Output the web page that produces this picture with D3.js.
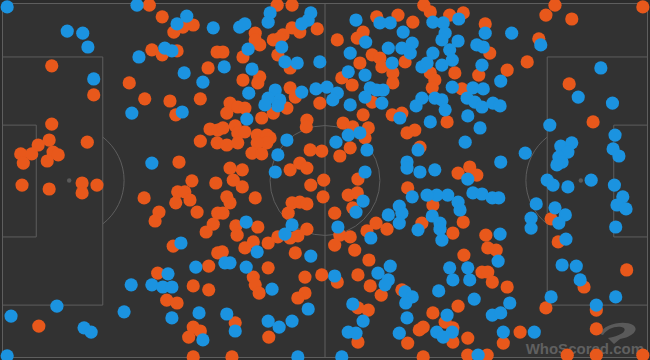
<!DOCTYPE html>
<html>
<head>
<meta charset="utf-8">
<script src="https://cdn.jsdelivr.net/npm/d3@7"></script>
<style>
html,body{margin:0;padding:0;background:#2c2c2c;}
svg{display:block;}
</style>
</head>
<body>
<svg id="chart" width="650" height="360"></svg>
<script>
// Pitch coordinates 0-100 (x: own goal -> opponent goal, y: top -> bottom)
const orangeTouches = [
[22.8,0.6],[24.8,3.9],[29.6,6.2],[26.6,8.2],[28.0,6.8],[7.7,17.7],[23.2,13.2],[24.8,14.6],[27.1,13.5],[33.3,13.8],
[31.9,18.3],[14.2,25.9],[19.7,22.5],[22.1,27.0],[26.0,27.6],[30.7,27.0],[26.9,31.5],[7.7,34.1],[32.2,35.5],[33.4,35.8],
[30.7,38.9],[33.3,39.4],[7.3,38.6],[5.6,40.0],[13.2,39.2],[2.9,42.5],[4.6,42.5],[7.9,42.0],[8.7,42.8],[3.3,45.1],
[7.0,44.5],[27.4,44.8],
[3.1,51.3],[7.3,52.4],[12.4,50.7],[12.4,53.5],[14.7,51.3],[22.0,54.9],[27.2,53.2],[28.3,53.2],[29.4,50.1],[29.1,55.5],
[26.9,56.3],[33.1,50.7],[24.3,58.9],[23.7,61.4],[30.2,58.9],[32.7,62.3],[31.6,64.5],[33.4,59.2],[26.5,68.5],[33.4,70.4],
[32.0,74.1],[24.1,76.1],[29.6,79.7],[32.0,80.8],[25.5,83.7],[27.1,84.5],[5.7,91.0],[29.6,91.3],[30.7,92.4],[28.9,94.1],
[29.6,99.7],
[42.6,0.6],[44.9,0.6],[39.2,8.5],[39.9,11.8],[39.2,10.4],[44.9,7.0],[46.1,8.2],[48.8,7.3],[43.5,9.0],[42.0,10.4],
[43.0,9.9],[37.3,15.2],[34.2,13.8],[44.6,18.3],[42.7,14.6],[37.3,21.7],[39.9,20.8],[39.6,22.5],[44.6,23.9],[44.1,29.6],
[45.4,26.5],[49.2,28.2],[35.3,28.2],[36.5,29.3],[37.6,29.6],[34.8,31.0],[40.2,32.4],[42.0,31.0],[47.2,33.0],[47.1,34.9],
[36.1,34.6],[34.2,35.2],[36.5,36.6],[37.6,36.3],[39.5,37.2],[41.0,37.2],[41.5,38.0],[41.0,39.4],[39.5,39.4],[34.8,40.0],
[36.5,39.4],[38.7,42.3],[40.2,42.5],[47.7,41.4],[49.5,41.7],[35.3,46.5],[37.2,47.0],[35.8,49.9],[44.6,47.0],[46.1,45.1],
[47.2,46.5],[49.8,49.9],
[58.0,3.9],[61.3,3.4],[63.6,5.4],[65.3,0.6],[66.3,2.5],[51.9,10.4],[55.0,9.9],[55.9,8.2],[57.3,14.6],[58.5,15.5],
[55.4,16.9],[58.8,18.0],[62.4,16.6],[52.6,21.1],[60.5,19.7],[60.5,22.5],[66.3,19.7],[67.0,21.7],[66.6,23.9],[54.2,23.1],
[57.3,27.9],[60.4,31.5],[61.9,31.0],[55.9,31.5],[52.8,33.8],[54.3,34.9],[56.7,35.2],[56.2,38.0],[62.7,36.6],[63.9,35.8],
[53.9,40.8],[64.7,40.6],[52.3,43.1],[55.1,49.6],
[69.3,3.4],[71.4,2.8],[74.8,5.9],[84.2,3.4],[85.6,0.6],[88.2,4.5],[99.2,1.1],[83.1,10.1],[75.5,14.1],[81.3,16.6],
[78.2,18.9],[70.1,19.7],[73.8,20.3],[71.2,24.2],[68.9,33.5],[72.4,46.2],[70.6,47.9],[73.5,48.5],[87.8,22.8],[91.5,33.5],
[66.7,56.9],[71.4,61.7],[69.8,64.8],[74.9,65.4],[75.2,69.0],[76.5,69.6],[71.5,71.0],[74.3,75.8],[75.2,75.8],[75.9,78.6],
[78.2,80.0],[70.6,85.4],[66.7,87.3],[68.6,89.9],[69.8,91.5],[69.8,95.5],[72.1,94.4],[77.6,95.8],[80.2,92.7],[72.1,99.2],
[75.1,99.2],[85.0,60.8],[86.1,67.3],[96.7,75.2],[90.1,80.0],[92.0,86.5],[84.2,85.9],[92.0,91.8],[87.5,99.2],[92.0,99.2],
[99.2,99.2],
[37.2,51.8],[34.8,54.6],[35.3,56.3],[39.2,54.9],[34.2,59.2],[47.8,51.3],[44.9,56.3],[46.1,56.1],[47.2,56.6],[44.3,59.2],
[49.7,54.6],[53.6,54.1],[55.0,53.5],[51.5,59.2],[54.3,57.7],[62.8,52.1],[57.9,62.0],[59.6,63.7],[56.5,64.2],[65.0,62.0],
[52.3,65.4],[53.9,65.9],[51.5,68.2],[54.6,69.6],[36.2,62.8],[36.4,65.4],[39.6,63.1],[38.9,67.3],[37.6,69.0],[41.2,67.6],
[42.7,65.9],[44.6,66.2],[45.8,65.6],[47.2,63.7],[45.4,70.4],[34.1,70.1],[41.2,74.6],[38.9,77.2],[39.2,79.4],[39.8,81.7],
[46.9,77.2],[49.5,76.6],[51.9,78.6],[55.1,76.6],[56.8,72.4],[57.0,79.7],[58.7,82.3],[46.9,81.7],[45.8,83.1],[61.9,80.8],
[55.1,85.9],[56.7,86.5],[36.1,90.1],[41.3,94.1],[55.1,95.5],[62.8,95.8],[64.6,92.1],[65.2,91.3],[35.6,99.7],[65.2,99.7]
];

const blueTouches = [
[0.8,1.1],[20.9,0.6],[27.1,5.9],[28.6,3.7],[32.7,7.0],[10.1,7.9],[12.5,8.5],[13.3,12.4],[25.2,12.7],[26.3,13.5],
[21.2,15.2],[28.2,19.7],[14.2,21.4],[31.1,22.3],[20.1,31.0],[27.9,30.7],[23.2,45.1],
[27.7,67.6],[30.0,74.4],[25.7,76.3],[20.0,79.4],[23.2,79.4],[24.9,80.0],[26.3,80.0],[8.5,85.4],[18.9,87.0],[30.5,87.3],
[1.4,88.2],[26.3,88.7],[12.7,91.5],[13.8,92.7],[31.1,94.9],[0.8,99.4],
[41.5,2.8],[41.2,5.4],[47.8,2.8],[47.4,4.8],[46.4,5.9],[36.8,6.8],[37.6,5.9],[38.1,13.0],[43.3,12.4],[34.4,18.0],
[43.8,16.6],[45.7,16.9],[49.2,16.6],[38.7,18.6],[38.2,25.4],[42.3,24.5],[41.2,26.8],[40.7,28.7],[43.0,27.3],[42.7,29.0],
[46.4,25.1],[48.6,24.2],[50.3,23.7],[51.9,25.4],[51.2,27.3],[37.9,32.7],[44.1,38.6],[42.7,42.8],[42.3,47.6],
[54.8,4.8],[58.5,5.6],[60.1,5.6],[66.7,5.4],[56.3,11.0],[62.1,8.2],[53.9,14.1],[59.8,12.7],[61.9,12.7],[63.5,11.3],
[63.2,14.1],[60.4,16.9],[53.6,19.4],[56.2,20.3],[65.0,18.0],[65.8,16.9],[66.7,14.1],[57.0,23.9],[59.0,24.5],[58.0,24.5],
[56.2,26.5],[58.8,28.2],[53.9,28.7],[65.0,26.8],[64.1,29.0],[67.0,26.8],[61.6,32.4],[66.3,33.5],[53.6,37.2],[55.4,36.6],
[51.7,39.2],[56.5,41.4],[64.4,41.4],[62.7,44.8],[62.7,46.5],[64.7,47.6],[56.2,47.6],[67.0,47.0],
[68.3,5.6],[70.7,4.5],[78.9,8.5],[74.8,8.5],[68.6,8.5],[68.1,10.4],[70.6,10.7],[83.4,11.8],[73.5,11.8],[74.5,12.4],
[69.3,13.2],[69.7,16.1],[68.1,17.5],[74.3,17.5],[77.2,22.0],[69.7,23.7],[72.9,23.9],[74.5,24.2],[68.1,27.3],[68.6,30.1],
[72.0,26.8],[73.2,27.9],[74.3,29.3],[76.0,28.2],[77.1,29.0],[72.1,31.8],[74.0,35.2],[71.7,39.2],[77.2,44.8],[81.0,42.3],
[72.1,49.6],[92.7,18.3],[89.2,26.5],[94.5,28.2],[84.8,34.4],[94.9,37.2],[86.5,40.3],[88.2,39.4],[87.6,42.0],[86.2,43.4],
[86.7,44.8],[85.9,45.6],[94.6,41.1],[95.5,43.1],[84.4,49.9],[91.2,49.9],
[85.3,51.3],[87.6,51.8],[94.8,51.3],[96.1,54.6],[95.2,56.9],[96.6,58.0],[95.0,63.1],[67.3,54.1],[69.0,54.1],[70.6,56.1],
[70.9,58.3],[72.9,53.5],[74.3,53.8],[75.9,54.9],[76.9,54.9],[66.6,60.0],[67.8,62.0],[67.8,63.7],[68.1,66.8],[77.1,65.1],
[76.8,72.7],[69.3,74.6],[69.8,78.0],[72.1,74.6],[72.4,78.0],[67.6,81.1],[73.1,83.4],[78.6,84.5],[68.9,87.9],[75.9,87.9],
[77.2,87.3],[69.7,92.7],[67.3,92.7],[68.3,94.1],[77.6,92.7],[82.4,92.7],[73.7,99.2],[82.7,56.6],[85.6,57.7],[87.2,59.7],
[86.2,62.0],[81.9,60.6],[81.9,63.4],[87.3,66.5],[86.7,73.8],[88.9,74.1],[89.5,78.0],[85.0,82.8],[95.0,82.8],[92.0,85.1],
[55.9,55.8],[54.8,58.9],[63.5,54.6],[65.8,54.1],[61.5,57.2],[61.9,59.2],[59.8,59.7],[61.5,62.0],[64.4,63.9],[57.1,66.2],
[52.0,63.1],[37.8,61.7],[39.5,70.1],[44.9,62.5],[43.8,65.1],[47.8,71.3],[34.5,73.2],[35.3,73.2],[37.8,74.4],[51.5,76.9],
[60.1,74.1],[58.2,76.1],[59.8,78.0],[59.3,79.4],[41.8,80.6],[47.4,86.2],[62.4,81.4],[63.5,82.8],[62.5,84.5],[54.3,84.8],
[55.9,89.6],[62.7,88.7],[34.8,87.6],[36.1,92.4],[41.2,89.6],[42.9,91.3],[44.9,89.6],[53.6,92.7],[54.8,93.0],[61.5,93.0],
[45.8,99.7],[52.6,99.7]
];

// Pitch markings in the same 0-100 units
const penaltyBox = {depth: 15.6, top: 15.2, bottom: 85.1};
const sixYardBox = {depth: 5.3, top: 34.4, bottom: 65.9};
const penaltySpotX = 10.4;
const circleRadius = 8.5; // in x units

const colors = {orange: "#e8581b", blue: "#1b93e0", pitch: "#323232", line: "#5e5e5e"};

const W = 650, H = 360;
const svg = d3.select("#chart");
const x = d3.scaleLinear().domain([0, 100]).range([2, 648]);
const y = d3.scaleLinear().domain([0, 100]).range([3, 358]);
const rPx = x(circleRadius) - x(0);

svg.append("rect").attr("width", W).attr("height", H).attr("fill", "#2c2c2c");
svg.append("rect").attr("x", x(0)).attr("y", y(0)).attr("width", x(100) - x(0)).attr("height", y(100) - y(0))
  .attr("fill", colors.pitch);

const lines = svg.append("g").attr("fill", "none").attr("stroke", colors.line).attr("stroke-width", 1);
lines.append("rect").attr("x", x(0) + 0.5).attr("y", y(0) + 0.5).attr("width", x(100) - x(0) - 1).attr("height", y(100) - y(0) - 1);
lines.append("line").attr("x1", x(50)).attr("x2", x(50)).attr("y1", y(0)).attr("y2", y(100));
lines.append("circle").attr("cx", x(50)).attr("cy", y(50)).attr("r", rPx);

[0, 100].forEach(side => {
  const dir = side === 0 ? 1 : -1;
  const xb = x(side + dir * penaltyBox.depth);
  lines.append("path").attr("d", `M${x(side)},${y(penaltyBox.top)}H${xb}V${y(penaltyBox.bottom)}H${x(side)}`);
  const xs = x(side + dir * sixYardBox.depth);
  lines.append("path").attr("d", `M${x(side)},${y(sixYardBox.top)}H${xs}V${y(sixYardBox.bottom)}H${x(side)}`);
  const spot = x(side + dir * penaltySpotX);
  const a = Math.acos(Math.abs(xb - spot) / rPx);
  const p = d3.path();
  if (dir === 1) { p.arc(spot, y(50), rPx, -a, a); }
  else { p.arc(spot, y(50), rPx, Math.PI - a, Math.PI + a); }
  lines.append("path").attr("d", p.toString());
  svg.append("circle").attr("cx", spot).attr("cy", y(50)).attr("r", 2.2).attr("fill", "#5a5a5a");
});
svg.append("circle").attr("cx", x(50)).attr("cy", y(50)).attr("r", 2.2).attr("fill", "#5a5a5a");

// Watermark
const wm = svg.append("g");
wm.append("path")
  .attr("d", "M600,334 C603,324 624,320 633,325 C640,330 632,337 620,339 L614,344 L608,338 C619,336 627,332 624,328 C619,325 608,327 603,335 Z")
  .attr("fill", "#5a5a5a");
wm.append("text").attr("x", 644).attr("y", 354).attr("text-anchor", "end")
  .attr("font-family", "'Liberation Sans', Arial, sans-serif").attr("font-weight", "bold").attr("font-size", 15)
  .attr("fill", "#606060").text("WhoScored.com");

const dotR = 6.6;
svg.append("g").selectAll("circle").data(orangeTouches).join("circle")
  .attr("cx", d => x(d[0])).attr("cy", d => y(d[1])).attr("r", dotR).attr("fill", colors.orange);
svg.append("g").selectAll("circle").data(blueTouches).join("circle")
  .attr("cx", d => x(d[0])).attr("cy", d => y(d[1])).attr("r", dotR).attr("fill", colors.blue);
</script>
</body>
</html>
